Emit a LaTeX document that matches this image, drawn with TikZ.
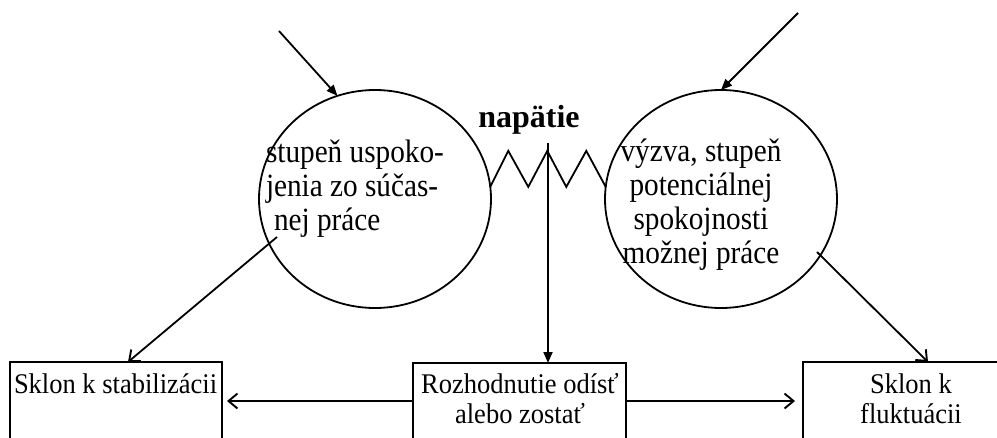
\documentclass[tikz,border=0pt]{standalone}
\usepackage{fontspec}
\setmainfont{Liberation Serif}
\newfontfamily\circfont[FakeStretch=0.90]{Liberation Serif}
\newfontfamily\boxfont[FakeStretch=0.93]{Liberation Serif}
\usetikzlibrary{arrows.meta,shapes.geometric,calc}
\begin{document}
\begin{tikzpicture}[x=1pt,y=1pt,
  every node/.style={inner sep=0pt, outer sep=0pt},
  circ/.style={draw, ellipse, line width=1.8pt, minimum width=232pt, minimum height=218pt},
  boxst/.style={draw, line width=1.9pt, anchor=north west, minimum height=100pt},
  ctext/.style={font=\circfont\fontsize{32.5}{34}\selectfont},
  btext/.style={font=\boxfont\fontsize{28.5}{30}\selectfont, align=center},
  conn/.style={line width=1.8pt},
  tri/.style={conn, -{Triangle[length=11pt,width=9pt]}},
  barb/.style={conn, -{Straight Barb[length=9pt,width=15pt,line width=1.9pt]}}
]
\useasboundingbox (0,0) rectangle (997,-437);

% circles
\node[circ] (lc) at (375,-199) {};
\node[circ] (rc) at (721,-199) {};

% circle texts (base anchor = last line)
\node[ctext, align=left, anchor=base west] (lct) at (266,-230)
  {stupeň uspoko-\\jenia zo súčas-\\\hspace*{8pt}nej práce};
\node[ctext, align=center, anchor=base] (rct) at (701,-263)
  {výzva, stupeň\\potenciálnej\\spokojnosti\\možnej práce};

% tension label
\node[font=\bfseries\fontsize{32}{36}\selectfont, anchor=base] (nap) at (529,-127) {napätie};

% boxes
\node[boxst, minimum width=212pt] (lb) at (10,-362) {};
\node[boxst, minimum width=213pt] (cb) at (413,-363) {};
\node[boxst, minimum width=250pt] (rb) at (803,-362) {};

\node[btext, anchor=base west] (lbt) at (14,-393) {Sklon k stabilizácii};
\node[btext, anchor=base] (cbt) at (520,-423) {Rozhodnutie odísť\\alebo zostať};
\node[btext, anchor=base] (rbt) at (911,-423) {Sklon k\\fluktuácii};

% zigzag spring between circles
\draw[conn] (lc.6) -- ++(18,36) -- ++(20,-36) -- ++(19,36) -- ++(19,-36) -- ++(20,36) -- (rc.174);

% vertical arrow
\coordinate (vt) at (548,-143);
\draw[tri] (vt) -- (vt |- cb.north);

% top arrows
\coordinate (tl) at (279,-31);
\coordinate (tr) at (798,-13);
\draw[tri] (tl) -- (lc.110);
\draw[tri] (tr) -- (rc.90);

% lower diagonal arrows
\coordinate (ls) at (277,-237);
\coordinate (rs) at (817,-252);
\draw[barb] (ls) -- ($(lb.north west)+(118,0)$);
\draw[barb] (rs) -- ($(rb.north west)+(125,0)$);

% horizontal arrows
\coordinate (hl) at ($(cb.north west)+(0,-38)$);
\coordinate (hr) at ($(cb.north east)+(0,-38)$);
\draw[barb] (hl) -- ($(lb.east |- hl)+(5,0)$);
\draw[barb] (hr) -- ($(rb.west |- hr)+(-8,0)$);
\end{tikzpicture}
\end{document}
